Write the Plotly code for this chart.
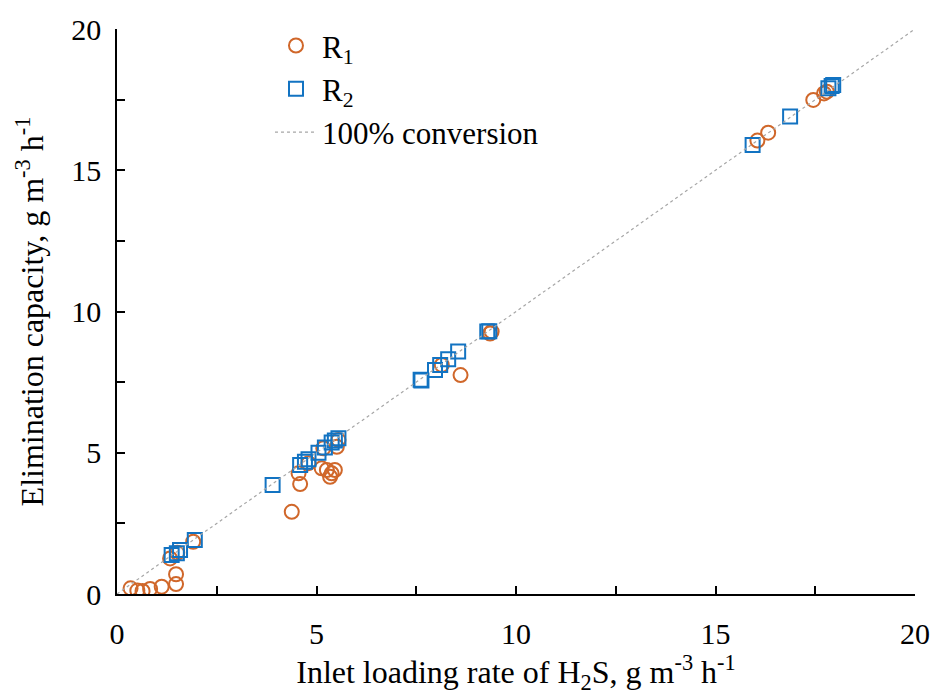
import plotly.graph_objects as go

# R1 (circles)
r1_x = [0.34, 0.51, 0.64, 0.83, 1.12, 1.48, 1.48, 1.33, 1.51, 1.91,
        4.38, 4.59, 4.55, 4.80, 5.13, 5.26, 5.38, 5.46, 5.34, 5.17, 5.51, 5.55,
        8.14, 8.61, 9.39, 9.35, 16.05, 16.32, 17.45, 17.72, 17.79]
r1_y = [0.20, 0.12, 0.11, 0.18, 0.26, 0.35, 0.70, 1.26, 1.46, 1.85,
        2.91, 3.89, 4.27, 4.63, 4.45, 4.39, 4.27, 4.39, 4.15, 5.16, 5.21, 5.45,
        8.11, 7.75, 9.29, 9.22, 16.05, 16.33, 17.49, 17.72, 17.78]

# R2 (squares)
r2_x = [1.37, 1.50, 1.58, 1.95, 3.90, 4.59, 4.71, 4.80, 5.05, 5.21, 5.38, 5.46, 5.55,
        7.61, 7.63, 7.97, 8.10, 8.30, 8.55, 9.28, 9.33, 15.93, 16.87, 17.83, 17.91, 17.95]
r2_y = [1.38, 1.44, 1.56, 1.91, 3.86, 4.57, 4.68, 4.77, 5.00, 5.19, 5.36, 5.43, 5.51,
        7.58, 7.56, 7.93, 8.11, 8.31, 8.58, 9.29, 9.30, 15.89, 16.90, 17.90, 17.98, 18.02]

# 100% conversion reference line
ref_x = [0, 20]
ref_y = [0, 20]

tick_vals = [0, 5, 10, 15, 20]
tick_text = ["0", "5", "10", "15", "20"]

FONT = "Times New Roman, Liberation Serif, serif"
ORANGE = "#D0672A"
BLUE = "#1273C2"

fig = go.Figure()
fig.add_trace(go.Scatter(
    x=r1_x, y=r1_y, mode="markers", name="R<sub>1</sub>",
    marker=dict(symbol="circle-open", size=14, color=ORANGE, line=dict(width=2, color=ORANGE)),
))
fig.add_trace(go.Scatter(
    x=r2_x, y=r2_y, mode="markers", name="R<sub>2</sub>",
    marker=dict(symbol="square-open", size=14, color=BLUE, line=dict(width=2, color=BLUE)),
))
fig.add_trace(go.Scatter(
    x=ref_x, y=ref_y, mode="lines", name="100% conversion",
    line=dict(color="#A6A6A6", width=1.2, dash="dot"),
))

axis_common = dict(
    range=[0, 20], showgrid=False, zeroline=False, showline=True, automargin=False,
    linecolor="black", linewidth=1.5, ticks="inside", ticklen=8,
    tickwidth=1.5, tickcolor="black", tickvals=tick_vals, ticktext=tick_text,
    tickfont=dict(family=FONT, size=30, color="black"),
    minor=dict(tickvals=[2.5, 7.5, 12.5, 17.5], ticks="inside", ticklen=8,
               tickwidth=1.5, tickcolor="black"),
)

fig.update_layout(
    width=932, height=695,
    margin=dict(l=117, r=17, t=29, b=101),
    paper_bgcolor="white", plot_bgcolor="white",
    font=dict(family=FONT, size=30, color="black"),
    xaxis=dict(**axis_common, ticklabelstandoff=12,
               title=dict(text="Inlet loading rate of H<sub>2</sub>S, g m<sup>-3</sup> h<sup>-1</sup>",
                          font=dict(family=FONT, size=32, color="black"), standoff=17)),
    yaxis=dict(**axis_common, ticklabelstandoff=8,
               title=dict(text="Elimination capacity, g m<sup>-3</sup> h<sup>-1</sup>",
                          font=dict(family=FONT, size=32, color="black"), standoff=18)),
    legend=dict(x=0.1917, y=1.018, xanchor="left", yanchor="top", itemwidth=42,
                bgcolor="rgba(0,0,0,0)", font=dict(family=FONT, size=31, color="black"),
                tracegroupgap=0),
    showlegend=True,
)

fig.write_html("out.html")
